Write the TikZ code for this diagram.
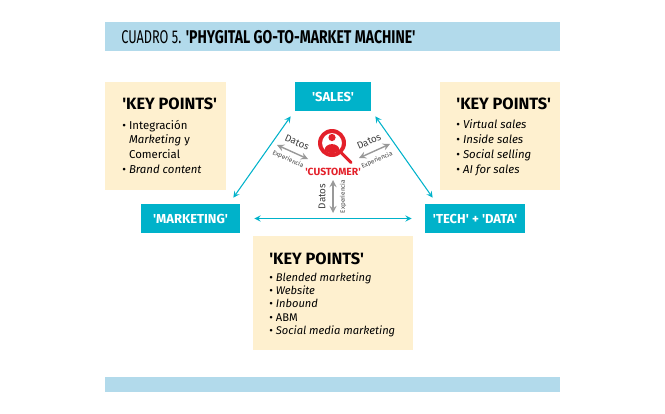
\documentclass[tikz,border=0pt]{standalone}
\usepackage{fontspec}
\setmainfont{Fira Sans}[Ligatures=TeXOff]
\newfontfamily\titlefont{Fira Sans}[Ligatures=TeXOff, FakeStretch=0.69, BoldFeatures={FakeStretch=0.76}]
\usepackage{xcolor}
\definecolor{bandblue}{HTML}{B2DAEB}
\definecolor{notecream}{HTML}{FEF0CF}
\definecolor{tealbox}{HTML}{00B2CA}
\definecolor{custred}{HTML}{E3202A}
\definecolor{flowgrey}{HTML}{999999}

\tikzset{
    band/.style={fill=bandblue, draw=none},
    notebox/.style={fill=notecream, draw=none, inner sep=0pt},
    notehead/.style={anchor=west, inner sep=0pt, font=\fontsize{9.3}{10}\selectfont\bfseries},
    notetext/.style={anchor=north west, align=left, inner sep=0pt, font=\fontsize{6.5}{8.5}\selectfont},
    areabox/.style={fill=tealbox, text=white, inner sep=0pt, font=\fontsize{7.4}{8}\selectfont\bfseries},
    linkarrow/.style={<->, >=stealth, tealbox, semithick},
    flowarrow/.style={<->, >=stealth, flowgrey, thick},
    datos/.style={inner sep=0pt, text=black!75, font=\fontsize{5.6}{7}\selectfont},
    experiencia/.style={inner sep=0pt, text=black!75, font=\fontsize{3.6}{4}\selectfont},
}

\begin{document}
\begin{tikzpicture}[x=0.02cm, y=-0.02cm]
    \useasboundingbox (0, 0) rectangle (665, 413);

    % bands
    \fill[band] (105, 22) rectangle (560, 51);
    \fill[band] (105, 377) rectangle (560, 392);
    \node[anchor=west, inner sep=0pt, font=\fontsize{10.5}{11}\titlefont] (title) at (121, 37) {CUADRO 5. \textbf{'PHYGITAL GO-TO-MARKET MACHINE'}};

    % key points
    \node[notebox, minimum width=2.42cm, minimum height=2.16cm] (leftbox) at (165.5, 136) {};
    \node[notebox, minimum width=2.40cm, minimum height=2.16cm] (rightbox) at (500, 136) {};
    \node[notebox, minimum width=3.20cm, minimum height=2.28cm] (bottombox) at (333, 293) {};

    \node[notehead] (lefthead) at (122, 104) {'KEY POINTS'};
    \node[notetext] (lefttext) at (122, 119.5) {• Integración\\
        \phantom{• }\textit{Marketing} y\\
        \phantom{• }Comercial\\
        • \textit{Brand content}};

    \node[notehead] (righthead) at (456, 104) {'KEY POINTS'};
    \node[notetext] (righttext) at (456, 119.5) {• \textit{Virtual sales}\\
        • \textit{Inside sales}\\
        • \textit{Social selling}\\
        • \textit{AI for sales}};

    \node[notehead] (bottomhead) at (269, 259) {'KEY POINTS'};
    \node[notetext, font=\fontsize{6.35}{7.6}\selectfont] (bottomtext) at (269, 272) {• \textit{Blended marketing}\\
        • \textit{Website}\\
        • \textit{Inbound}\\
        • ABM\\
        • \textit{Social media marketing}};

    % areas
    \node[areabox, minimum width=1.52cm, minimum height=0.58cm] (sales) at (333, 96.5) {'SALES'};
    \node[areabox, minimum width=1.98cm, minimum height=0.58cm] (marketing) at (190.5, 218.5) {'MARKETING'};
    \node[areabox, minimum width=2.00cm, minimum height=0.58cm] (techdata) at (475, 218.5) {'TECH' + 'DATA'};

    \draw[linkarrow] ([shift={(-4, 5)}]sales.south west) -- ([shift={(-7, -6)}]marketing.north east);
    \draw[linkarrow] ([shift={(4, 5)}]sales.south east) -- ([shift={(8, -6)}]techdata.north west);
    \draw[linkarrow] ([xshift=14*0.02cm]marketing.east) -- ([xshift=-13*0.02cm]techdata.west);

    % customer
    \draw[custred, line width=1.7pt, line cap=round] (341.5, 153) -- (351, 162.5);
    \fill[custred, even odd rule] (332, 143) circle (14) (332, 143) circle (10);
    \fill[custred] (332, 137.5) circle (3.6);
    \fill[custred] (324.5, 150.5) .. controls (324.5, 142) and (339.5, 142) .. (339.5, 150.5) -- (334, 153) -- (330, 153) -- cycle;
    \node[inner sep=0pt, text=custred, font=\fontsize{5.9}{7}\selectfont\bfseries] (customer) at (333, 171.5) {'CUSTOMER'};

    % flows
    \coordinate (leftA) at (277, 145);
    \coordinate (leftB) at (308, 159);
    \coordinate (rightA) at (390, 144);
    \coordinate (rightB) at (359, 158);
    \coordinate (downA) at (333, 180);
    \coordinate (downB) at (333, 213);
    \draw[flowarrow] (leftA) -- (leftB);
    \draw[flowarrow] (rightA) -- (rightB);
    \draw[flowarrow] (downA) -- (downB);

    \node[datos, rotate=-24] (datosleft) at (297, 142.5) {Datos};
    \node[experiencia, rotate=-24] (expleft) at (288, 159.5) {Experiencia};
    \node[datos, rotate=24] (datosright) at (369, 141.5) {Datos};
    \node[experiencia, rotate=24] (expright) at (377, 160) {Experiencia};
    \node[datos, rotate=90] (datosdown) at (322, 196.5) {Datos};
    \node[experiencia, rotate=90] (expdown) at (343, 196.5) {Experiencia};
\end{tikzpicture}
\end{document}
